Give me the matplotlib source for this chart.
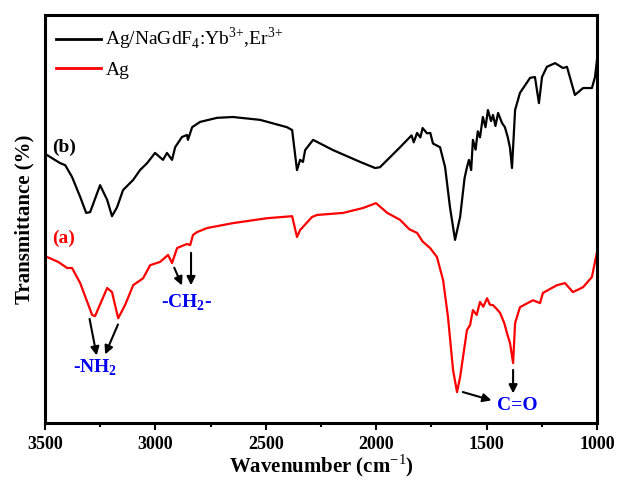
import matplotlib
matplotlib.use("Agg")
import matplotlib.pyplot as plt
from matplotlib.ticker import MultipleLocator

plt.rcParams["font.family"] = ["Liberation Serif", "DejaVu Serif"]
plt.rcParams["mathtext.fontset"] = "custom"
plt.rcParams["mathtext.rm"] = "Liberation Serif"
plt.rcParams["mathtext.bf"] = "Liberation Serif:bold"

# === Data ===
wn_b = [3492, 3432, 3409, 3378, 3341, 3314, 3296, 3251, 3219, 3197, 3174, 3147,
        3101, 3070, 3038, 3002, 2966, 2948, 2925, 2911, 2880, 2857, 2853, 2834,
        2798, 2721, 2649, 2526, 2404, 2381, 2359, 2345, 2332, 2322, 2286, 2196,
        2073, 2005, 1983, 1892, 1840, 1830, 1815, 1800, 1790, 1770, 1755, 1743,
        1711, 1688, 1666, 1643, 1620, 1600, 1589, 1580, 1570, 1562, 1550, 1540,
        1530, 1517, 1505, 1494, 1480, 1471, 1460, 1448, 1430, 1417, 1404, 1394,
        1385, 1371, 1349, 1303, 1281, 1263, 1249, 1227, 1190, 1154, 1136, 1100,
        1063, 1023, 1009, 1000]
t_b = [65.7, 63.7, 63.2, 60.3, 55.4, 51.5, 51.7, 58.3, 54.7, 50.7, 52.9, 57.1,
       59.6, 62.0, 63.7, 66.2, 64.5, 66.2, 64.5, 67.6, 70.1, 70.6, 69.4, 72.5,
       73.8, 74.8, 75.0, 74.3, 72.5, 71.8, 62.0, 64.5, 64.0, 66.9, 69.4, 66.9,
       64.0, 62.5, 62.7, 67.6, 70.5, 68.8, 71.1, 70.0, 72.3, 71.0, 71.1, 68.5,
       67.6, 62.7, 52.9, 44.9, 50.5, 60.0, 62.7, 64.5, 62.0, 69.4, 67.0, 71.5,
       70.0, 75.0, 72.5, 76.7, 74.0, 75.5, 72.8, 76.0, 73.5, 72.5, 70.0, 67.4,
       62.5, 76.7, 80.9, 84.6, 84.8, 78.4, 84.8, 87.3, 88.2, 87.0, 87.3, 80.4,
       82.1, 82.1, 84.8, 89.0]

wn_a = [3491, 3441, 3400, 3378, 3341, 3287, 3274, 3219, 3197, 3169, 3138, 3101,
        3056, 3024, 2979, 2943, 2925, 2902, 2857, 2843, 2830, 2812, 2766, 2649,
        2495, 2381, 2359, 2345, 2291, 2268, 2150, 2060, 2001, 1950, 1892, 1850,
        1815, 1790, 1756, 1725, 1697, 1675, 1652, 1634, 1620, 1589, 1575, 1562,
        1545, 1530, 1515, 1498, 1485, 1471, 1455, 1439, 1420, 1408, 1394, 1380,
        1371, 1349, 1290, 1258, 1245, 1181, 1145, 1109, 1063, 1023, 1000]
t_a = [40.7, 39.5, 38.0, 38.0, 34.3, 26.5, 26.2, 33.1, 32.1, 25.7, 28.9, 33.8,
       35.5, 38.7, 39.5, 41.2, 39.2, 42.9, 43.9, 43.6, 46.1, 46.8, 47.8, 49.0,
       50.2, 50.7, 45.6, 47.3, 50.5, 51.0, 51.5, 52.7, 53.9, 51.5, 49.8, 47.5,
       46.6, 44.5, 42.9, 40.7, 35.0, 26.0, 13.0, 7.6, 11.3, 22.8, 24.0, 27.7,
       26.5, 29.7, 28.5, 30.6, 29.0, 28.9, 28.0, 27.0, 24.5, 22.1, 19.6, 14.7,
       24.5, 28.4, 30.1, 29.4, 31.9, 33.8, 34.3, 32.1, 33.3, 35.8, 41.9]

# === Plot ===
fig = plt.figure(figsize=(6.18, 4.83), dpi=100)
ax = fig.add_axes([0.073, 0.124, 0.893, 0.845])

ax.plot(wn_b, t_b, color="black", lw=1.6, label="Ag/NaGdF$_4$:Yb$^{3{+}}$,Er$^{3{+}}$")
ax.plot(wn_a, t_a, color="red", lw=1.6, label="Ag")

ax.set_xlim(3500, 1000)
ax.set_ylim(0, 100)
ax.xaxis.set_major_locator(MultipleLocator(500))
ax.xaxis.set_minor_locator(MultipleLocator(250))
ax.set_yticks([])
ax.tick_params(axis="x", which="major", direction="out", length=5, width=1.5,
               labelsize=13, pad=4)
ax.tick_params(axis="x", which="minor", direction="out", length=3, width=1.5)
for lab in ax.get_xticklabels():
    lab.set_fontweight("bold")
for sp in ax.spines.values():
    sp.set_linewidth(2.2)

ax.set_xlabel("Wavenumber (cm$^{-1}$)", fontsize=15, fontweight="bold", labelpad=0)
ax.set_ylabel("Transmittance (%)", fontsize=15, fontweight="bold", labelpad=8)

leg = ax.legend(loc="upper left", frameon=False, fontsize=14, handlelength=2.3,
                handletextpad=0.25, labelspacing=0.45, borderaxespad=0.15)
for line in leg.get_lines():
    line.set_linewidth(2)

# curve labels
ax.text(3468, 67.6, "(b)", fontsize=14, fontweight="bold", color="black",
        ha="left", va="center")
ax.text(3468, 45.3, "(a)", fontsize=14, fontweight="bold", color="red",
        ha="left", va="center")

# band assignments
blue = "#0000ee"
ax.text(3274, 13.5, "-NH$_\\mathbf{2}$", fontsize=14, fontweight="bold", color=blue,
        ha="center", va="center")
ax.text(2861, 29.4, "-CH$_\\mathbf{2}$-", fontsize=14, fontweight="bold", color=blue,
        ha="center", va="center")
ax.text(1362, 4.4, "C=O", fontsize=14, fontweight="bold", color=blue,
        ha="center", va="center")

arrow = dict(arrowstyle="-|>,head_length=0.5,head_width=0.25", color="black", lw=1.5)
arrows = [((3301, 26.2), (3264, 15.9)),
          ((3165, 24.8), (3233, 16.2)),
          ((2920, 38.7), (2875, 33.1)),
          ((2839, 42.4), (2839, 33.1)),
          ((1620, 7.8), (1466, 5.4)),
          ((1380, 13.7), (1380, 6.6))]
for start, end in arrows:
    ax.annotate("", xy=end, xytext=start, arrowprops=arrow)

fig.savefig("out.png", dpi=100)
